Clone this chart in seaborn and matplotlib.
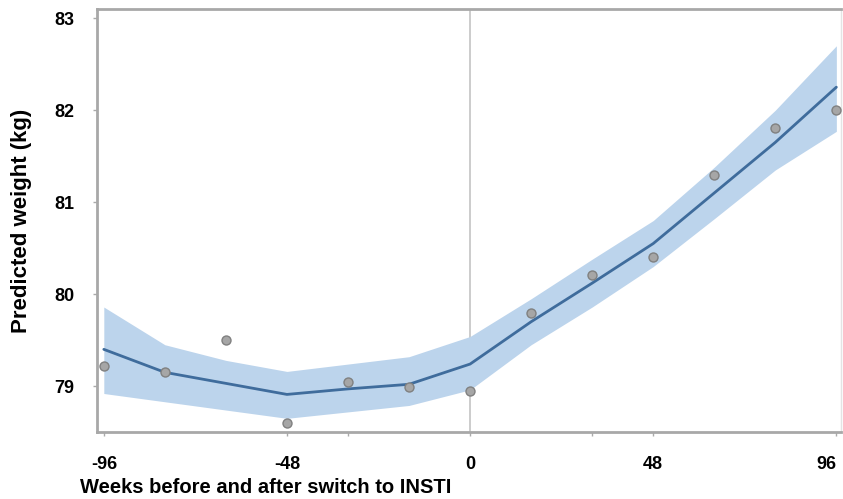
import numpy as np
import pandas as pd
import matplotlib
matplotlib.use("Agg")
import matplotlib.pyplot as plt
import seaborn as sns

# weeks relative to switch
weeks = [-96, -80, -64, -48, -32, -16, 0, 16, 32, 48, 64, 80, 96]
# observed means (grey dots)
observed = [79.22, 79.15, 79.50, 78.60, 79.05, 78.99, 78.95, 79.80, 80.21, 80.40, 81.30, 81.81, 82.00]
# predicted weight + 95% CI
predicted = [79.40, 79.15, 79.03, 78.91, 78.97, 79.02, 79.24, 79.70, 80.12, 80.55, 81.10, 81.65, 82.25]
ci_low = [78.92, 78.83, 78.74, 78.65, 78.72, 78.79, 78.96, 79.45, 79.86, 80.30, 80.82, 81.35, 81.77]
ci_high = [79.86, 79.45, 79.28, 79.16, 79.24, 79.32, 79.54, 79.95, 80.38, 80.80, 81.38, 82.00, 82.70]

df = pd.DataFrame({"week": weeks, "obs": observed, "pred": predicted,
                   "lo": ci_low, "hi": ci_high})

sns.set_style("white")
plt.rcParams["font.family"] = ["Liberation Sans", "DejaVu Sans"]
plt.rcParams["axes.unicode_minus"] = False
plt.rcParams["text.color"] = "black"
plt.rcParams["axes.labelcolor"] = "black"
plt.rcParams["xtick.labelcolor"] = "black"
plt.rcParams["ytick.labelcolor"] = "black"

fig = plt.figure(figsize=(8.43, 4.99), dpi=100)
ax = fig.add_axes([0.115, 0.134, 0.883, 0.848])

ax.axvline(0, color="#c4c4c4", lw=1.2, zorder=0)
ax.fill_between(df["week"], df["lo"], df["hi"], color="#bcd4ec", lw=0, zorder=1)
sns.lineplot(data=df, x="week", y="pred", color="#3f6c9c", lw=2, ax=ax, zorder=3)
sns.scatterplot(data=df, x="week", y="obs", color="#a6a6a6", edgecolor="#808080",
                s=42, linewidth=1, ax=ax, zorder=4)

ax.set_xlim(-97.8, 97.3)
ax.set_ylim(78.5, 83.1)
ax.set_xticks([-96, -48, 0, 48, 96])
ax.set_xticks([-32, 32], minor=True)
ax.set_yticks([79, 80, 81, 82, 83])
ax.tick_params(axis="both", which="both", length=3, width=1, color="#aaaaaa",
               labelsize=13, bottom=True, left=True, labelcolor="black")
ax.tick_params(axis="x", pad=14)
ax.tick_params(axis="y", pad=13)
for lab in ax.get_xticklabels() + ax.get_yticklabels():
    lab.set_fontweight("bold")
ax.get_xticklabels()[-1].set_horizontalalignment("right")

for side in ["left", "bottom", "top"]:
    ax.spines[side].set_color("#a8a8a8")
    ax.spines[side].set_linewidth(2)
ax.spines["right"].set_color("#e4e4e4")
ax.spines["right"].set_linewidth(1)

ax.set_xlabel("Weeks before and after switch to INSTI", fontsize=14.5, fontweight="bold", color="black")
ax.set_ylabel("Predicted weight (kg)", fontsize=16, fontweight="bold", color="black")
ax.xaxis.set_label_coords(0.227, -0.13)
ax.xaxis.label.set_verticalalignment("center")
ax.yaxis.set_label_coords(-0.102, 0.5)
ax.yaxis.label.set_verticalalignment("center")

fig.savefig("out.png", dpi=100)
